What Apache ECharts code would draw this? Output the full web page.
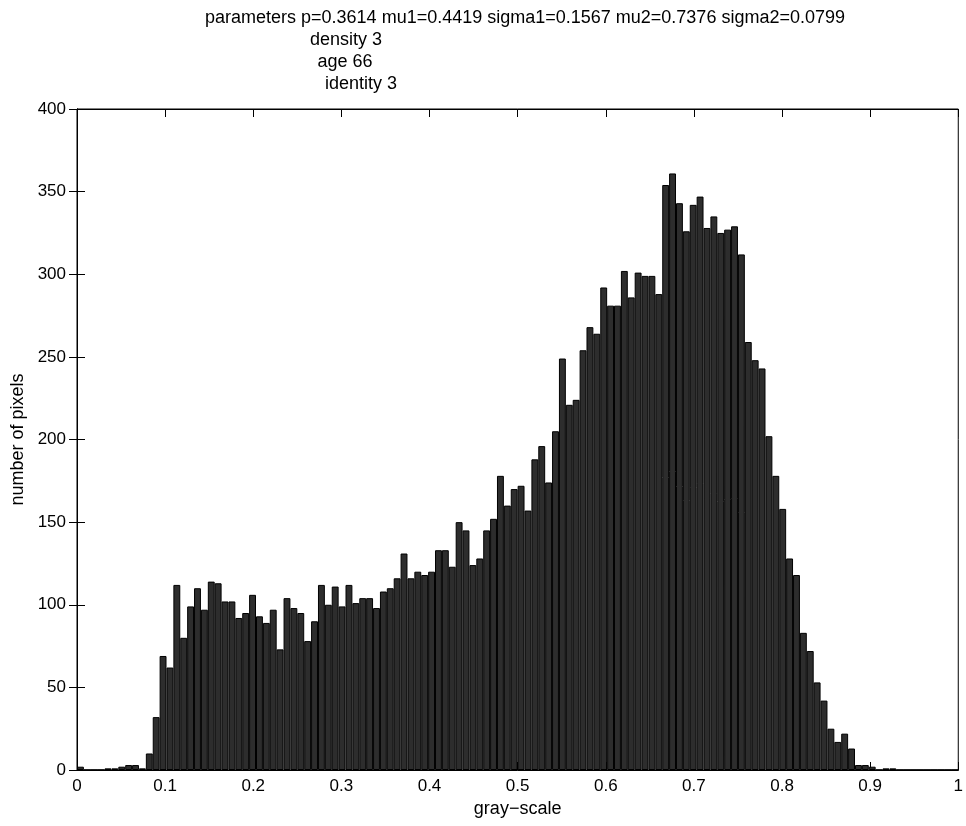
<!DOCTYPE html>
<html>
<head>
<meta charset="utf-8">
<script src="https://cdn.jsdelivr.net/npm/echarts@6/dist/echarts.min.js"></script>
<style>
  html, body { margin: 0; padding: 0; background: #fff; }
  #chart { width: 966px; height: 826px; }
</style>
</head>
<body>
<div id="chart"></div>
<script>
// ---- data ----
const binCounts = [
  2, 0, 0, 0, 1, 1, 2, 3, 3, 1,
  10, 32, 69, 62, 112, 80, 99, 110, 97, 114,
  113, 102, 102, 92, 95, 106, 93, 89, 97, 73,
  104, 98, 95, 78, 90, 112, 100, 111, 99, 112,
  101, 104, 104, 98, 108, 110, 116, 131, 116, 120,
  118, 120, 133, 133, 123, 150, 145, 124, 128, 145,
  152, 178, 160, 170, 172, 157, 188, 196, 174, 205,
  249, 221, 224, 254, 268, 264, 292, 281, 281, 302,
  286, 301, 299, 299, 288, 354, 361, 343, 326, 342,
  347, 328, 335, 325, 327, 329, 312, 259, 248, 243,
  202, 178, 158, 128, 118, 83, 72, 53, 42, 25,
  17, 22, 13, 3, 3, 2, 0, 1, 1, 0,
  0, 0, 0, 0, 0, 0, 0, 0
];
const binIndex = binCounts.map((_, i) => String(i));
const xTicks = [0, 0.1, 0.2, 0.3, 0.4, 0.5, 0.6, 0.7, 0.8, 0.9, 1];
const yTicks = [0, 50, 100, 150, 200, 250, 300, 350, 400];
const titleLines = [
  'parameters p=0.3614 mu1=0.4419 sigma1=0.1567 mu2=0.7376 sigma2=0.0799',
  'density 3',
  'age 66',
  'identity 3'
];
const xLabel = 'gray\u2212scale';
const yLabel = 'number of pixels';

// ---- chart ----
const FONT = 'Liberation Sans, Arial, Helvetica, sans-serif';
const chart = echarts.init(document.getElementById('chart'), null, { renderer: 'canvas' });

const tickStyle = { show: true, inside: true, length: 8, lineStyle: { color: '#000', width: 1 } };
const lineStyle = { show: true, lineStyle: { color: '#000', width: 1 } };
const titleFont = '18px ' + FONT;

chart.setOption({
  animation: false,
  backgroundColor: '#fff',
  grid: { left: 77, right: 3, top: 109, bottom: 56, show: true, borderColor: '#000', borderWidth: 1, backgroundColor: 'transparent' },
  graphic: [
    { type: 'text', x: 525, y: 18, style: { text: titleLines[0], font: titleFont, fill: '#000', textAlign: 'center', textVerticalAlign: 'middle' } },
    { type: 'text', x: 346, y: 40, style: { text: titleLines[1], font: titleFont, fill: '#000', textAlign: 'center', textVerticalAlign: 'middle' } },
    { type: 'text', x: 345, y: 62, style: { text: titleLines[2], font: titleFont, fill: '#000', textAlign: 'center', textVerticalAlign: 'middle' } },
    { type: 'text', x: 361, y: 84, style: { text: titleLines[3], font: titleFont, fill: '#000', textAlign: 'center', textVerticalAlign: 'middle' } }
  ],
  xAxis: [
    { type: 'category', data: binIndex, boundaryGap: true, show: false, gridIndex: 0 },
    {
      type: 'value', min: xTicks[0], max: xTicks[xTicks.length - 1], interval: 0.1, position: 'bottom', gridIndex: 0,
      axisLine: lineStyle, axisTick: tickStyle, splitLine: { show: false },
      axisLabel: { color: '#000', fontSize: 17, fontFamily: FONT, margin: 8 },
      name: xLabel, nameLocation: 'middle', nameGap: 20,
      nameTextStyle: { color: '#000', fontSize: 18, fontFamily: FONT }
    },
    {
      type: 'value', min: xTicks[0], max: xTicks[xTicks.length - 1], interval: 0.1, position: 'top', gridIndex: 0,
      axisLine: lineStyle, axisTick: tickStyle, splitLine: { show: false }, axisLabel: { show: false }
    }
  ],
  yAxis: [
    {
      type: 'value', min: yTicks[0], max: yTicks[yTicks.length - 1], interval: 50, position: 'left',
      axisLine: lineStyle, axisTick: tickStyle, splitLine: { show: false },
      axisLabel: { color: '#000', fontSize: 17, fontFamily: FONT, margin: 11 },
      name: yLabel, nameLocation: 'middle', nameGap: 50, nameRotate: 90,
      nameTextStyle: { color: '#000', fontSize: 18, fontFamily: FONT }
    },
    {
      type: 'value', min: yTicks[0], max: yTicks[yTicks.length - 1], interval: 50, position: 'right',
      axisLine: lineStyle, axisTick: tickStyle, splitLine: { show: false }, axisLabel: { show: false }
    }
  ],
  series: [{
    type: 'bar',
    xAxisIndex: 0,
    yAxisIndex: 0,
    data: binCounts,
    barWidth: '100%',
    barCategoryGap: 0,
    itemStyle: { color: '#2d2d2d', borderColor: '#000', borderWidth: 1 },
    emphasis: { disabled: true }
  }]
});
</script>
</body>
</html>
